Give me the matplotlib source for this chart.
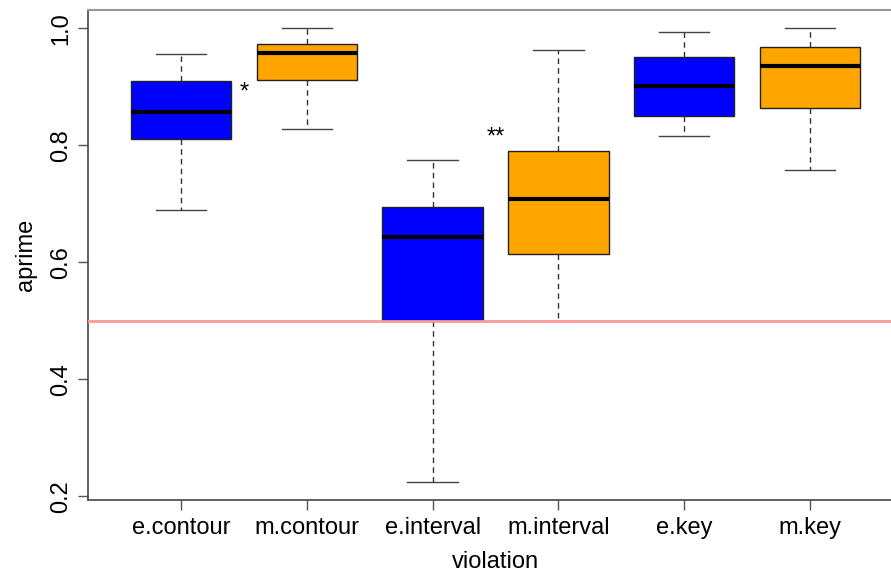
import matplotlib
matplotlib.use("Agg")
import matplotlib.pyplot as plt

plt.rcParams['font.family'] = ['Liberation Sans', 'DejaVu Sans']

categories = ["e.contour", "m.contour", "e.interval", "m.interval", "e.key", "m.key"]
whis_lo = [0.690, 0.828, 0.225, 0.500, 0.816, 0.757]
q1 = [0.811, 0.912, 0.500, 0.614, 0.850, 0.863]
median = [0.857, 0.958, 0.644, 0.708, 0.902, 0.935]
q3 = [0.910, 0.973, 0.695, 0.790, 0.951, 0.968]
whis_hi = [0.955, 1.000, 0.775, 0.962, 0.993, 1.000]
colors = ["#0000FF", "#FFA500", "#0000FF", "#FFA500", "#0000FF", "#FFA500"]
yticks = [0.2, 0.4, 0.6, 0.8, 1.0]
ytick_labels = ["0.2", "0.4", "0.6", "0.8", "1.0"]
annotations = [("*", 1.5, 0.890), ("**", 3.5, 0.813)]
ref_line = 0.5

W, H = 891, 575
fig = plt.figure(figsize=(W / 100, H / 100), dpi=100)
left, right, top, bottom = 88, 903, 10, 500
ax = fig.add_axes([left / W, 1 - bottom / H, (right - left) / W, (bottom - top) / H])

stats = []
for i, c in enumerate(categories):
    stats.append(dict(label=c, whislo=whis_lo[i], q1=q1[i], med=median[i],
                      q3=q3[i], whishi=whis_hi[i], fliers=[]))

positions = list(range(1, len(categories) + 1))
bp = ax.bxp(stats, positions=positions, widths=0.8, capwidths=0.4,
            patch_artist=True, showfliers=False,
            boxprops=dict(edgecolor="#222222", linewidth=1.0),
            medianprops=dict(color="black", linewidth=3.0),
            whiskerprops=dict(color="#333333", linewidth=1.0, linestyle=(0, (4, 3))),
            capprops=dict(color="#444444", linewidth=1.0))
for patch, col in zip(bp['boxes'], colors):
    patch.set_facecolor(col)

ax.axhline(ref_line, color="#FF9999", linewidth=2.0, zorder=5)

for txt, xv, yv in annotations:
    ax.text(xv, yv, txt, ha="center", va="center", fontsize=17, color="black")

n = len(categories)
pad = 0.04 * n
ax.set_xlim(0.5 - pad, n + 0.5 + pad)
ax.set_ylim(0.194, 1.031)

ax.set_xticks(positions)
ax.set_xticklabels(categories, fontsize=17)
ax.set_yticks(yticks)
ax.set_yticklabels(ytick_labels, fontsize=17, rotation=90, va="center")

ax.tick_params(axis="both", length=7.2, width=1.0, color="#555555")
ax.tick_params(axis="x", pad=5)
ax.tick_params(axis="y", pad=4)

for side in ["left", "bottom", "right"]:
    ax.spines[side].set_color("#444444")
    ax.spines[side].set_linewidth(1.2)
ax.spines["top"].set_color("#999999")
ax.spines["top"].set_linewidth(1.5)

ax.set_xlabel("violation", fontsize=17, labelpad=9)
ax.set_ylabel("aprime", fontsize=17, labelpad=10)

fig.savefig("out.png", dpi=100)
